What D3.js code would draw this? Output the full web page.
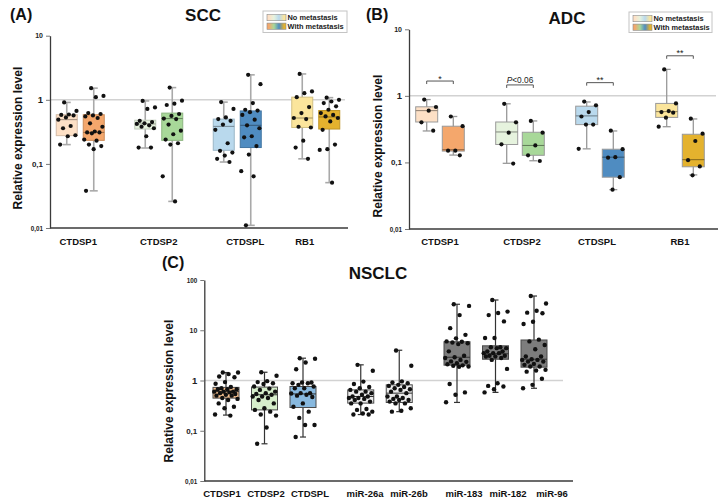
<!DOCTYPE html>
<html><head><meta charset="utf-8">
<script src="https://cdn.jsdelivr.net/npm/d3@7"></script>
<style>body{margin:0;background:#fff}svg{display:block;font-family:"Liberation Sans",Arial,sans-serif}</style>
</head><body><svg id="c" width="720" height="504"></svg>
<script>
// ---------------- DATA ----------------
const genes = ["CTDSP1","CTDSP2","CTDSPL","RB1"];
const noMetaColors   = ["#fde0c6","#e6f3de","#b9d9ed","#fbe59c"];
const withMetaColors = ["#f4a76c","#a8d899","#4f8cc1","#e4b22e"];
const legendLabels = ["No metastasis","With metastasis"];

// SCC (A) : box stats [lowWhisker, q1, median, q3, highWhisker]
const sccNoBox   = [[0.2,0.276,0.49,0.585,0.91],[0.177,0.35,0.42,0.48,0.96],[0.107,0.163,0.385,0.5,0.92],[0.12,0.37,0.52,1.1,2.53]];
const sccWithBox = [[0.038,0.233,0.31,0.585,1.52],[0.026,0.233,0.51,0.62,1.55],[0.011,0.18,0.40,0.67,2.45],[0.051,0.35,0.54,0.68,1.08]];
const sccNoPts = [
  [0.91,0.67,0.59,0.58,0.57,0.53,0.49,0.39,0.36,0.28,0.27,0.2],
  [0.96,0.76,0.72,0.47,0.45,0.43,0.42,0.4,0.38,0.36,0.27,0.18,0.18],
  [0.92,0.72,0.53,0.5,0.47,0.41,0.34,0.21,0.16,0.15,0.135,0.12,0.107],
  [2.53,1.35,1.27,1.1,0.77,0.62,0.52,0.5,0.38,0.37,0.23,0.18,0.12]];
const sccWithPts = [
  [1.52,1.15,1.1,0.62,0.6,0.57,0.55,0.52,0.43,0.38,0.32,0.31,0.31,0.3,0.24,0.23,0.2,0.19,0.17,0.038],
  [1.55,0.97,0.87,0.83,0.6,0.56,0.51,0.5,0.41,0.33,0.29,0.24,0.21,0.2,0.064,0.026],
  [2.45,1.75,0.89,0.7,0.68,0.64,0.58,0.49,0.4,0.36,0.27,0.26,0.19,0.14,0.077,0.064,0.011],
  [1.08,1.0,0.94,0.89,0.79,0.7,0.62,0.58,0.55,0.52,0.46,0.34,0.2,0.17,0.165,0.051]];

// ADC (B)
const adcNoBox   = [[0.297,0.405,0.6,0.685,0.88],[0.097,0.186,0.287,0.405,0.76],[0.16,0.37,0.5,0.70,0.81],[0.344,0.475,0.58,0.77,2.5]];
const adcWithBox = [[0.129,0.148,0.155,0.35,0.49],[0.106,0.128,0.18,0.284,0.42],[0.039,0.06,0.12,0.158,0.297],[0.065,0.086,0.11,0.265,0.45]];
const adcNoPts = [[0.88,0.68,0.6,0.4,0.3],[0.76,0.4,0.28,0.187,0.096],[0.82,0.72,0.57,0.49,0.37,0.37,0.16],[2.5,0.77,0.59,0.57,0.56,0.47,0.344]];
const adcWithPts = [[0.49,0.35,0.15,0.15,0.128],[0.42,0.28,0.18,0.128,0.105],[0.3,0.158,0.12,0.118,0.06,0.039],[0.455,0.27,0.21,0.108,0.087,0.064]];
const adcSigText  = ["*","P<0.06","**","**"];
const adcSigLevel = [1.67,1.46,1.58,4.0];

// NSCLC (C)
const nsclcCats = ["CTDSP1","CTDSP2","CTDSPL","miR-26a","miR-26b","miR-183","miR-182","miR-96"];
const nsclcFamily = [0,0,0,1,1,2,2,2];
const nsclcColors = ["#f6c08f","#d6eecb","#88b9df","#ececec","#ececec","#7d7d7d","#7d7d7d","#7d7d7d"];
const nsclcBox = [[0.205,0.446,0.6,0.73,1.44],[0.055,0.26,0.52,0.74,1.46],[0.075,0.29,0.54,0.76,2.78],
  [0.21,0.355,0.48,0.65,2.05],[0.24,0.365,0.56,0.82,4.0],[0.366,2.02,2.9,5.9,32.9],[0.58,2.65,3.4,4.9,40],[0.7,1.84,2.65,6.4,48]];
const nsclcPts = [
  [1.44,1.44,1.34,1.2,1.16,0.93,0.86,0.74,0.7,0.67,0.67,0.67,0.6,0.6,0.6,0.58,0.56,0.54,0.52,0.5,0.5,0.45,0.43,0.41,0.35,0.3,0.28,0.21,0.2],
  [1.46,1.24,0.97,0.93,0.88,0.85,0.76,0.69,0.65,0.6,0.56,0.54,0.52,0.48,0.48,0.45,0.41,0.35,0.28,0.26,0.24,0.21,0.2,0.116,0.055],
  [2.78,2.7,2.28,1.68,0.91,0.91,0.88,0.88,0.82,0.76,0.7,0.7,0.56,0.56,0.55,0.52,0.5,0.47,0.35,0.3,0.24,0.18,0.13,0.13,0.075],
  [2.05,1.56,0.95,0.85,0.74,0.7,0.65,0.6,0.6,0.56,0.52,0.48,0.48,0.45,0.45,0.43,0.41,0.38,0.35,0.35,0.27,0.26,0.24,0.22,0.21,0.21],
  [3.95,1.96,0.96,0.91,0.88,0.82,0.78,0.74,0.7,0.67,0.65,0.6,0.56,0.48,0.48,0.45,0.43,0.41,0.41,0.38,0.35,0.35,0.28,0.25,0.24],
  [33,30.5,20,11,8.1,6.9,6,5.9,5.7,5.5,5.3,3.8,3.1,2.9,2.8,2.57,2.4,2.35,2.2,2.1,2,1.96,1.9,1.88,0.85,0.58,0.52,0.37],
  [40,23.5,22,20,15,7,7,4.6,4.6,4.4,4.4,3.8,3.8,3.5,3.5,3.5,3.1,3.1,3.0,3.0,2.8,2.57,1.7,0.88,0.78,0.76,0.67,0.58],
  [48,34,24.5,22.4,21.8,14.8,13.3,6.5,6,5.1,4.2,3.0,3.0,2.65,2.57,2.57,2.38,2.38,2.14,2.05,1.9,1.9,1.63,1.58,1.5,1.08,0.82,0.7]];

const tickVals3 = [0.01,0.1,1,10];
const tickVals4 = [0.01,0.1,1,10,100];
const tickText = {100:"100",10:"10",1:"1",0.1:"0,1",0.01:"0,01"};

// ---------------- DRAWING ----------------
const svg = d3.select("#c");
const FONT = '"Liberation Sans",Arial,sans-serif';
const tickFont = v => v===1 ? 9.5 : (v===0.1 ? 8 : (v===10 ? 7 : 6.3));
const jit = i => ((i*0.6180339 + 0.37) % 1) - 0.5;

// gradients for legend
const defs = svg.append("defs");
function grad(id, cols){
  const lg = defs.append("linearGradient").attr("id",id).attr("x1","0%").attr("x2","100%");
  cols.forEach((c,i)=>lg.append("stop").attr("offset",(0.1+i*0.8/3)).attr("stop-color",c));
}
grad("gNo", noMetaColors); grad("gWith", withMetaColors);

function axisPanel(cfg){
  const g = svg.append("g");
  const y = d3.scaleLog().domain(cfg.domain).range([cfg.bottom, cfg.top]);
  g.append("line").attr("x1",cfg.left).attr("x2",cfg.refEnd).attr("y1",y(1)).attr("y2",y(1))
    .attr("stroke","#d2d2d2").attr("stroke-width",1.5);
  const ax = g.append("g").attr("transform",`translate(${cfg.left},0)`)
    .call(d3.axisLeft(y).tickValues(cfg.ticks).tickFormat(d=>tickText[d]).tickSize(4).tickSizeOuter(0).tickPadding(3));
  ax.select(".domain").attr("stroke","#3a3a3a").attr("stroke-width",1.3);
  ax.selectAll(".tick line").attr("stroke","#777");
  ax.selectAll(".tick text").attr("font-family",FONT).attr("font-weight","bold")
    .attr("font-size",d=>tickFont(d)).attr("fill","#222");
  g.append("line").attr("x1",cfg.left).attr("x2",cfg.right).attr("y1",cfg.bottom).attr("y2",cfg.bottom)
    .attr("stroke","#3a3a3a").attr("stroke-width",1.3);
  // titles
  g.append("text").attr("x",cfg.titleX).attr("y",cfg.titleY).attr("text-anchor","middle")
    .attr("font-weight","bold").attr("font-size",17).attr("fill","#111").text(cfg.title);
  g.append("text").attr("x",cfg.tagX).attr("y",cfg.tagY)
    .attr("font-weight","bold").attr("font-size",16).attr("fill","#111").text(cfg.tag);
  g.append("text").attr("transform",`translate(${cfg.ylabX},${cfg.ylabY}) rotate(-90)`).attr("text-anchor","middle")
    .attr("font-weight","bold").attr("font-size",12).attr("fill","#111").text("Relative expression level");
  return {g,y};
}

function box(g, y, cx, w, s, fill, stroke, medStroke, whisk, capW, ww){
  const [lo,q1,md,q3,hi] = s;
  g.append("line").attr("x1",cx).attr("x2",cx).attr("y1",y(lo)).attr("y2",y(hi)).attr("stroke",whisk).attr("stroke-width",ww);
  [lo,hi].forEach(v=>g.append("line").attr("x1",cx-capW/2).attr("x2",cx+capW/2).attr("y1",y(v)).attr("y2",y(v))
    .attr("stroke",whisk).attr("stroke-width",ww));
  g.append("rect").attr("x",cx-w/2).attr("width",w).attr("y",y(q3)).attr("height",y(q1)-y(q3))
    .attr("fill",fill).attr("stroke",stroke).attr("stroke-width",1);
  g.append("line").attr("x1",cx-w/2).attr("x2",cx+w/2).attr("y1",y(md)).attr("y2",y(md)).attr("stroke",medStroke).attr("stroke-width",1);
}
function dots(g, y, cx, w, vals, r){
  g.selectAll(null).data(vals).enter().append("circle")
    .attr("cx",(d,i)=>cx + jit(i)*w*0.95).attr("cy",d=>y(d)).attr("r",r).attr("fill","#111");
}
function legend(g, x, yTop, w, h){
  g.append("rect").attr("x",x).attr("y",yTop).attr("width",w).attr("height",h).attr("fill","#fff").attr("stroke","#c4c4c4");
  ["gNo","gWith"].forEach((id,i)=>{
    const yy = yTop + 3.5 + i*8.6;
    g.append("rect").attr("x",x+4).attr("y",yy).attr("width",19).attr("height",6.2).attr("fill",`url(#${id})`)
      .attr("stroke","#8a8a8a").attr("stroke-width",0.6);
    g.append("text").attr("x",x+24.5).attr("y",yy+5.8).attr("font-size",7.4).attr("font-weight","bold")
      .attr("fill","#222").text(legendLabels[i]);
  });
}

// ----- Panel A: SCC -----
(function(){
  const cfg = {domain:[0.01,10], left:50, right:348, top:35.7, bottom:228, refEnd:345, ticks:tickVals3,
    title:"SCC", titleX:203, titleY:20.7, tag:"(A)", tagX:10, tagY:20, ylabX:21.5, ylabY:138};
  const {g,y} = axisPanel(cfg);
  const x = d3.scaleBand().domain(genes).range([41,355]);
  const labelShift = [-2,0,8,-11];
  genes.forEach((gn,i)=>{
    const c = x(gn)+x.bandwidth()/2;
    [[c-13.5, sccNoBox[i], sccNoPts[i], noMetaColors[i]],[c+13.5, sccWithBox[i], sccWithPts[i], withMetaColors[i]]]
      .forEach(([cx,s,p,col])=>{
        box(g,y,cx,21,s,col,d3.color(col).darker(0.5),d3.color(col).darker(1.3),"#a9a9a9",8,1.6);
        dots(g,y,cx,21,p,2.1);
      });
    g.append("text").attr("x",c+labelShift[i]).attr("y",245).attr("text-anchor","middle")
      .attr("font-weight","bold").attr("font-size",9.5).attr("fill","#111").text(gn);
  });
  legend(g,263,11,84,21.5);
})();

// ----- Panel B: ADC -----
(function(){
  const cfg = {domain:[0.01,10], left:409, right:718, top:29.3, bottom:229, refEnd:716, ticks:tickVals3,
    title:"ADC", titleX:567, titleY:24, tag:"(B)", tagX:366, tagY:19.5, ylabX:381.5, ylabY:146};
  const {g,y} = axisPanel(cfg);
  const x = d3.scaleBand().domain(genes).range([400,720]);
  const labelShift = [0,2,-3,0];
  genes.forEach((gn,i)=>{
    const c = x(gn)+x.bandwidth()/2;
    [[c-13.3, adcNoBox[i], adcNoPts[i], noMetaColors[i]],[c+13.3, adcWithBox[i], adcWithPts[i], withMetaColors[i]]]
      .forEach(([cx,s,p,col])=>{
        box(g,y,cx,22,s,col,"#9a9a9a",d3.color(col).darker(1.6),"#999",8,1.3);
        dots(g,y,cx,20,p,2.1);
      });
    g.append("text").attr("x",c+labelShift[i]).attr("y",245).attr("text-anchor","middle")
      .attr("font-weight","bold").attr("font-size",9.5).attr("fill","#111").text(gn);
    // significance bracket
    const by = y(adcSigLevel[i]);
    g.append("path").attr("d",`M${c-13.3},${by+3}V${by}H${c+13.3}V${by+3}`).attr("fill","none")
      .attr("stroke","#555").attr("stroke-width",1);
    const t = g.append("text").attr("x",c).attr("text-anchor","middle").attr("fill","#222");
    if(adcSigText[i].startsWith("P")){
      t.attr("y",by-2.2).attr("font-size",8.3);
      t.append("tspan").attr("font-style","italic").text("P");
      t.append("tspan").text(adcSigText[i].slice(1));
    } else {
      t.attr("y",by+0.5).attr("font-size",9).text(adcSigText[i]);
    }
  });
  legend(g,629,12,83,20.5);
})();

// ----- Panel C: NSCLC -----
(function(){
  const cfg = {domain:[0.01,100], left:204.3, right:573, top:280, bottom:481, refEnd:563, ticks:tickVals4,
    title:"NSCLC", titleX:378, titleY:279.3, tag:"(C)", tagX:162, tagY:268, ylabX:172.5, ylabY:391};
  const {g,y} = axisPanel(cfg);
  const slot = nsclcCats.map((c,i)=>i + 0.5*nsclcFamily[i]);
  const labSlot = nsclcCats.map((c,i)=>i + 0.25*nsclcFamily[i]);
  const xb = d3.scaleLinear().domain([0,8]).range([226,534]);
  const xl = d3.scaleLinear().domain([0,7.5]).range([222,552]);
  nsclcCats.forEach((cat,i)=>{
    const cx = xb(slot[i]);
    box(g,y,cx,26,nsclcBox[i],nsclcColors[i],"#4a4a4a","#333","#333",6,1.2);
    dots(g,y,cx,26,nsclcPts[i],2.2);
    g.append("text").attr("x",xl(labSlot[i])).attr("y",497).attr("text-anchor","middle")
      .attr("font-weight","bold").attr("font-size",9.5).attr("fill","#111").text(cat);
  });
})();
</script></body></html>
